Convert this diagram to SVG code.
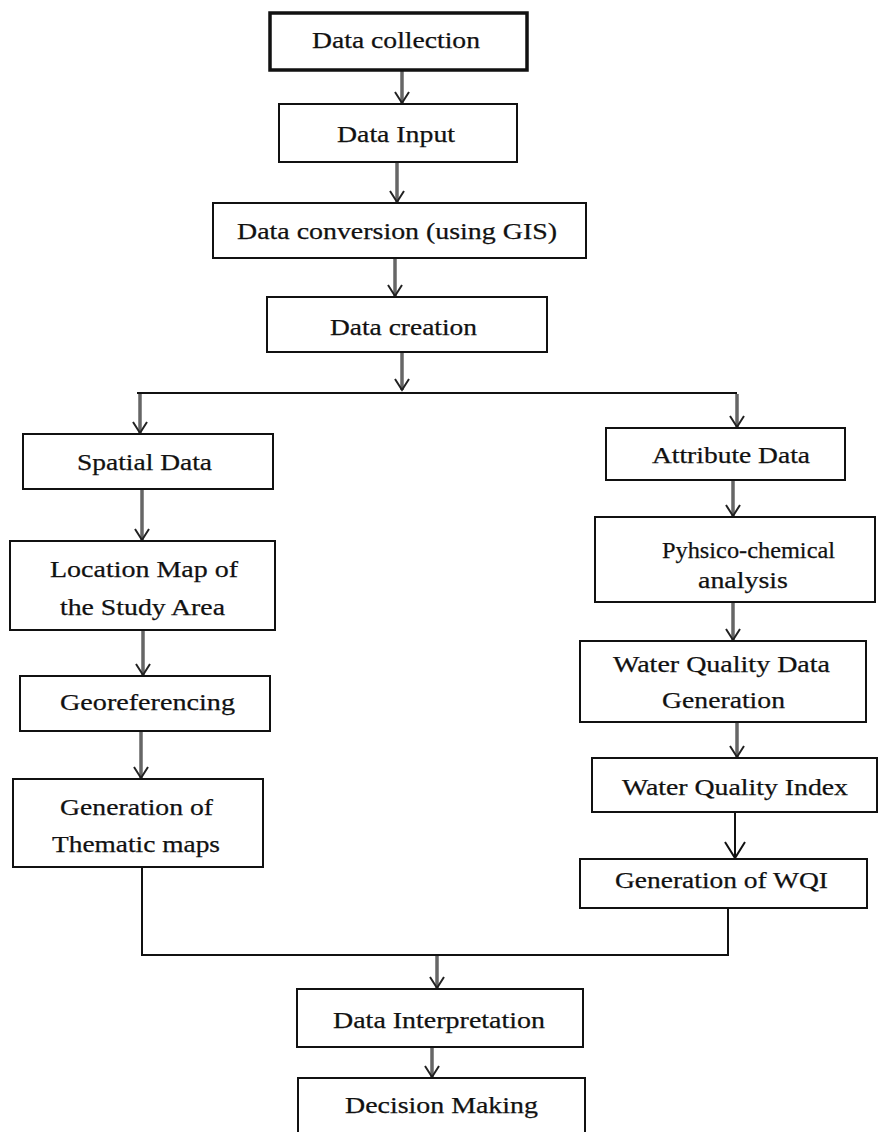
<svg xmlns="http://www.w3.org/2000/svg" width="878" height="1132" viewBox="0 0 878 1132">
<defs>
<style>
.box{fill:#fff;stroke:#111;stroke-width:2}
.thick{stroke-width:3.5}
text{font-family:"Liberation Serif","Times New Roman",serif;font-size:24px;fill:#111;stroke:#111;stroke-width:0.25;text-anchor:middle}
.shaft{stroke:#666;stroke-width:3.5;fill:none}
.line{stroke:#111;stroke-width:2;fill:none}
.thin{stroke:#111;stroke-width:2;fill:none}
</style>
<marker id="v" markerUnits="userSpaceOnUse" markerWidth="30" markerHeight="30" refX="0" refY="0" orient="auto" overflow="visible">
<path d="M-11,-7 L0,0 L-11,7" fill="none" stroke="#222" stroke-width="2"/>
</marker>
<marker id="vbig" markerUnits="userSpaceOnUse" markerWidth="40" markerHeight="40" refX="0" refY="0" orient="auto" overflow="visible">
<path d="M-16,-10 L0,0 L-16,10" fill="none" stroke="#111" stroke-width="2"/>
</marker>
</defs>
<rect width="878" height="1132" fill="#fff"/>
<g id="connectors">
<line class="shaft" x1="402" y1="71" x2="402" y2="103" marker-end="url(#v)"/>
<line class="shaft" x1="397" y1="163" x2="397" y2="202" marker-end="url(#v)"/>
<line class="shaft" x1="395" y1="259" x2="395" y2="296" marker-end="url(#v)"/>
<line class="shaft" x1="402" y1="353" x2="402" y2="390" marker-end="url(#v)"/>
<polyline class="line" points="137,393 737,393"/>
<line class="shaft" x1="140" y1="394" x2="140" y2="433" marker-end="url(#v)"/>
<line class="shaft" x1="737" y1="394" x2="737" y2="427" marker-end="url(#v)"/>
<line class="shaft" x1="142" y1="490" x2="142" y2="540" marker-end="url(#v)"/>
<line class="shaft" x1="143" y1="631" x2="143" y2="675" marker-end="url(#v)"/>
<line class="shaft" x1="141" y1="732" x2="141" y2="778" marker-end="url(#v)"/>
<line class="shaft" x1="733" y1="481" x2="733" y2="516" marker-end="url(#v)"/>
<line class="shaft" x1="733" y1="603" x2="733" y2="640" marker-end="url(#v)"/>
<line class="shaft" x1="737" y1="723" x2="737" y2="757" marker-end="url(#v)"/>
<line class="thin" x1="735" y1="813" x2="735" y2="858" marker-end="url(#vbig)"/>
<polyline class="line" points="142,867 142,955 728,955 728,908"/>
<line class="shaft" x1="437" y1="956" x2="437" y2="988" marker-end="url(#v)"/>
<line class="shaft" x1="432" y1="1048" x2="432" y2="1077" marker-end="url(#v)"/>
</g>
<g id="n1"><rect class="box thick" x="270" y="13" width="257" height="57"/><text x="396" y="48" textLength="168" lengthAdjust="spacingAndGlyphs">Data collection</text></g>
<g id="n2"><rect class="box" x="279" y="104" width="238" height="58"/><text x="396" y="142" textLength="118" lengthAdjust="spacingAndGlyphs">Data Input</text></g>
<g id="n3"><rect class="box" x="213" y="203" width="373" height="55"/><text x="397" y="239" textLength="320" lengthAdjust="spacingAndGlyphs">Data conversion (using GIS)</text></g>
<g id="n4"><rect class="box" x="267" y="297" width="280" height="55"/><text x="403.5" y="335" textLength="147" lengthAdjust="spacingAndGlyphs">Data creation</text></g>
<g id="n5"><rect class="box" x="23" y="434" width="250" height="55"/><text x="144.5" y="470" textLength="135" lengthAdjust="spacingAndGlyphs">Spatial Data</text></g>
<g id="n6"><rect class="box" x="10" y="541" width="265" height="89"/><text x="144" y="577" textLength="188" lengthAdjust="spacingAndGlyphs">Location Map of</text><text x="142.5" y="615" textLength="165" lengthAdjust="spacingAndGlyphs">the Study Area</text></g>
<g id="n7"><rect class="box" x="20" y="676" width="250" height="55"/><text x="147.5" y="710" textLength="175" lengthAdjust="spacingAndGlyphs">Georeferencing</text></g>
<g id="n8"><rect class="box" x="13" y="779" width="250" height="88"/><text x="136.5" y="815" textLength="153" lengthAdjust="spacingAndGlyphs">Generation of</text><text x="136" y="852" textLength="168" lengthAdjust="spacingAndGlyphs">Thematic maps</text></g>
<g id="n9"><rect class="box" x="606" y="428" width="239" height="52"/><text x="731" y="463" textLength="158" lengthAdjust="spacingAndGlyphs">Attribute Data</text></g>
<g id="n10"><rect class="box" x="595" y="517" width="280" height="85"/><text x="748.5" y="558" textLength="173" lengthAdjust="spacingAndGlyphs">Pyhsico-chemical</text><text x="743" y="588" textLength="90" lengthAdjust="spacingAndGlyphs">analysis</text></g>
<g id="n11"><rect class="box" x="580" y="641" width="286" height="81"/><text x="721.5" y="672" textLength="217" lengthAdjust="spacingAndGlyphs">Water Quality Data</text><text x="723.5" y="708" textLength="123" lengthAdjust="spacingAndGlyphs">Generation</text></g>
<g id="n12"><rect class="box" x="592" y="758" width="285" height="54"/><text x="735" y="795" textLength="226" lengthAdjust="spacingAndGlyphs">Water Quality Index</text></g>
<g id="n13"><rect class="box" x="580" y="859" width="287" height="49"/><text x="721.5" y="888" textLength="213" lengthAdjust="spacingAndGlyphs">Generation of WQI</text></g>
<g id="n14"><rect class="box" x="297" y="989" width="286" height="58"/><text x="439" y="1028" textLength="212" lengthAdjust="spacingAndGlyphs">Data Interpretation</text></g>
<g id="n15"><rect class="box" x="298" y="1078" width="287" height="70"/><text x="441.5" y="1113" textLength="193" lengthAdjust="spacingAndGlyphs">Decision Making</text></g>
</svg>
